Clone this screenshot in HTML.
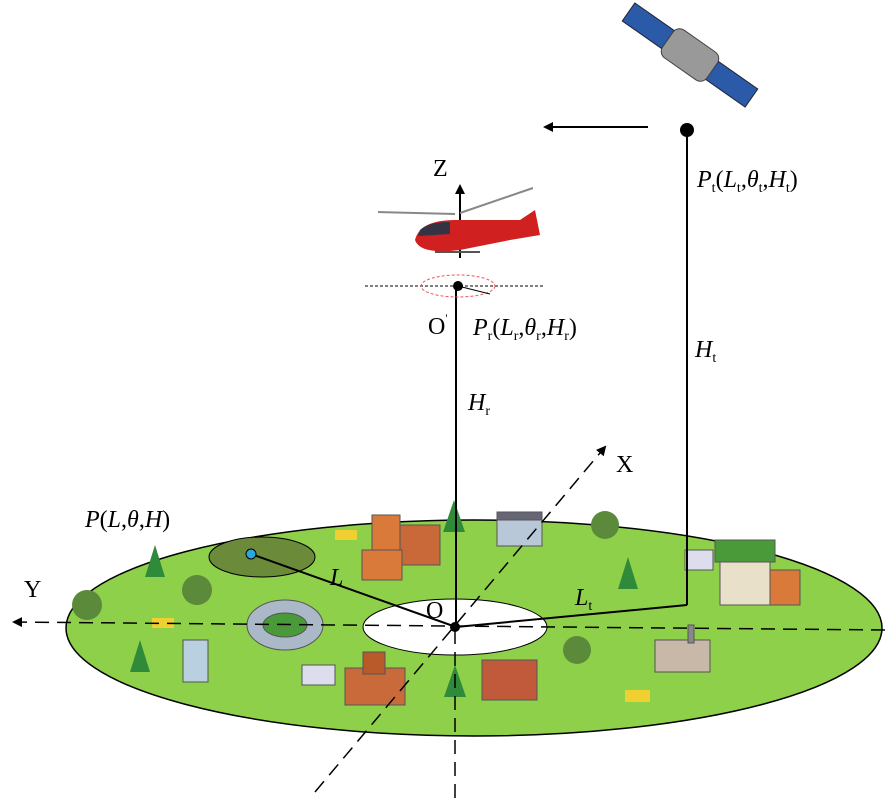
<!DOCTYPE html>
<html><head><style>
body{margin:0;background:#fff;}
svg{display:block}
text{font-family:"Liberation Serif",serif;fill:#000}
</style></head><body>
<svg width="891" height="800" viewBox="0 0 891 800" xmlns="http://www.w3.org/2000/svg">
<defs>
<marker id="ah" markerWidth="10" markerHeight="10" refX="8" refY="5" orient="auto" markerUnits="userSpaceOnUse"><path d="M0,0 L10,5 L0,10 z" fill="#000"/></marker>
</defs>
<ellipse cx="474" cy="628" rx="408" ry="108" fill="#8fd04a" stroke="#000" stroke-width="1.5"/>
<ellipse cx="455" cy="627" rx="92" ry="28" fill="#fff" stroke="#000" stroke-width="1"/>
<ellipse cx="262" cy="557" rx="53" ry="20" fill="#6b8a3a" stroke="#000" stroke-width="1"/>
<g fill="#2f8a3a">
<path d="M155,545 l-10,32 h20z"/><path d="M140,640 l-10,32 h20z"/><path d="M454,500 l-11,32 h22z"/><path d="M455,665 l-11,32 h22z"/><path d="M628,557 l-10,32 h20z"/>
</g>
<g fill="#5a8a3a">
<circle cx="87" cy="605" r="15"/><circle cx="197" cy="590" r="15"/><circle cx="605" cy="525" r="14"/><circle cx="577" cy="650" r="14"/>
</g>
<g stroke="#555" stroke-width="1">
<rect x="372" y="515" width="28" height="40" fill="#d9793a"/><rect x="400" y="525" width="40" height="40" fill="#c9693a"/><rect x="362" y="550" width="40" height="30" fill="#d9793a"/>
<rect x="497" y="518" width="45" height="28" fill="#b8c8d8"/><rect x="497" y="512" width="45" height="8" fill="#667"/>
<rect x="720" y="560" width="50" height="45" fill="#e8e0c8"/><rect x="770" y="570" width="30" height="35" fill="#d9793a"/><rect x="715" y="540" width="60" height="22" fill="#4a9a3a"/>
<ellipse cx="285" cy="625" rx="38" ry="25" fill="#aab8c8"/>
<ellipse cx="285" cy="625" rx="22" ry="12" fill="#4a9a3a"/>
<rect x="183" y="640" width="25" height="42" fill="#b8d0e0"/>
<rect x="345" y="668" width="60" height="37" fill="#c86a3a"/><rect x="363" y="652" width="22" height="22" fill="#b85a2a"/>
<rect x="482" y="660" width="55" height="40" fill="#c05a3a"/>
<rect x="655" y="640" width="55" height="32" fill="#c8b8a8"/><rect x="688" y="625" width="6" height="18" fill="#888"/>
<rect x="302" y="665" width="33" height="20" fill="#dde"/>
<rect x="685" y="550" width="28" height="20" fill="#dde"/>
</g>
<g fill="#f0d030"><rect x="335" y="530" width="22" height="10"/><rect x="152" y="618" width="22" height="10"/><rect x="625" y="690" width="25" height="12"/></g>
<line x1="885" y1="630" x2="14" y2="622" stroke="#000" stroke-width="1.5" stroke-dasharray="14,8" marker-end="url(#ah)"/>
<line x1="315" y1="792" x2="605" y2="447" stroke="#000" stroke-width="1.5" stroke-dasharray="14,8" marker-end="url(#ah)"/>
<line x1="455" y1="630" x2="455" y2="800" stroke="#000" stroke-width="1.5" stroke-dasharray="14,8"/>
<line x1="456" y1="627" x2="456" y2="285" stroke="#000" stroke-width="2"/>
<line x1="460" y1="258" x2="460" y2="186" stroke="#000" stroke-width="2" marker-end="url(#ah)"/>
<line x1="687" y1="130" x2="687" y2="605" stroke="#000" stroke-width="2"/>
<line x1="687" y1="605" x2="456" y2="627" stroke="#000" stroke-width="2"/>
<line x1="251" y1="554" x2="456" y2="627" stroke="#000" stroke-width="2"/>
<line x1="648" y1="127" x2="545" y2="127" stroke="#000" stroke-width="2" marker-end="url(#ah)"/>
<line x1="365" y1="286" x2="545" y2="286" stroke="#000" stroke-width="1" stroke-dasharray="3,2"/>
<ellipse cx="458" cy="286" rx="37" ry="11" fill="none" stroke="#e55" stroke-width="1" stroke-dasharray="3,2"/>
<line x1="458" y1="286" x2="490" y2="294" stroke="#000" stroke-width="1"/>
<circle cx="458" cy="286" r="5" fill="#000"/>
<circle cx="687" cy="130" r="7" fill="#000"/>
<circle cx="455" cy="627" r="5" fill="#000"/>
<circle cx="251" cy="554" r="5" fill="#29a8e0" stroke="#000"/>
<line x1="378" y1="212" x2="455" y2="214" stroke="#888" stroke-width="2"/>
<line x1="460" y1="213" x2="533" y2="188" stroke="#888" stroke-width="2"/>
<path d="M415,240 q5,-20 40,-20 l65,0 l15,-10 l5,25 l-30,5 l-50,10 q-40,5 -45,-10z" fill="#d02020"/>
<path d="M420,230 q8,-8 30,-8 l0,12 l-32,2z" fill="#334"/>
<line x1="435" y1="252" x2="480" y2="252" stroke="#555" stroke-width="2"/>
<g transform="rotate(35 690 55)">
<rect x="615" y="44" width="48" height="22" fill="#2a5aa8" stroke="#223"/>
<rect x="717" y="44" width="48" height="22" fill="#2a5aa8" stroke="#223"/>
<rect x="663" y="38" width="54" height="34" rx="8" fill="#999" stroke="#444"/>
</g>
<text x="433" y="176" font-size="24">Z</text>
<text x="428" y="334" font-size="24">O<tspan font-size="12" dy="-12">'</tspan></text>
<text x="473" y="335" font-size="24"><tspan font-style="italic">P</tspan><tspan font-size="14" dy="5">r</tspan><tspan dy="-5">(</tspan><tspan font-style="italic">L</tspan><tspan font-size="14" dy="5">r</tspan><tspan dy="-5">,</tspan><tspan font-style="italic">θ</tspan><tspan font-size="14" dy="5">r</tspan><tspan dy="-5">,</tspan><tspan font-style="italic">H</tspan><tspan font-size="14" dy="5">r</tspan><tspan dy="-5">)</tspan></text>
<text x="697" y="187" font-size="24"><tspan font-style="italic">P</tspan><tspan font-size="14" dy="5">t</tspan><tspan dy="-5">(</tspan><tspan font-style="italic">L</tspan><tspan font-size="14" dy="5">t</tspan><tspan dy="-5">,</tspan><tspan font-style="italic">θ</tspan><tspan font-size="14" dy="5">t</tspan><tspan dy="-5">,</tspan><tspan font-style="italic">H</tspan><tspan font-size="14" dy="5">t</tspan><tspan dy="-5">)</tspan></text>
<text x="695" y="357" font-size="24"><tspan font-style="italic">H</tspan><tspan font-size="14" dy="5">t</tspan></text>
<text x="468" y="410" font-size="24"><tspan font-style="italic">H</tspan><tspan font-size="14" dy="5">r</tspan></text>
<text x="616" y="472" font-size="24">X</text>
<text x="24" y="597" font-size="24">Y</text>
<text x="85" y="527" font-size="24"><tspan font-style="italic">P</tspan>(<tspan font-style="italic">L</tspan>,<tspan font-style="italic">θ</tspan>,<tspan font-style="italic">H</tspan>)</text>
<text x="330" y="585" font-size="24" font-style="italic">L</text>
<text x="426" y="618" font-size="24">O</text>
<text x="575" y="605" font-size="24"><tspan font-style="italic">L</tspan><tspan font-size="14" dy="5">t</tspan></text>
</svg>
</body></html>
